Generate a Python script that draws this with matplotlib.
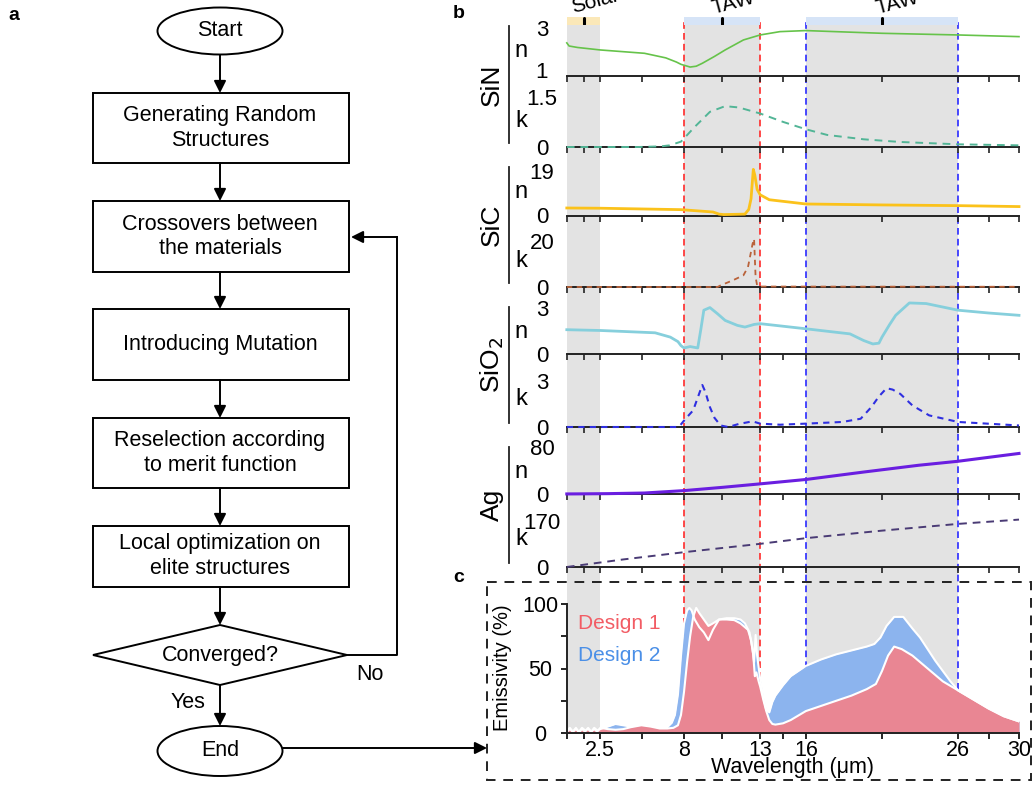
import matplotlib.pyplot as plt
from matplotlib.patches import Ellipse, Rectangle, Polygon

plt.rcParams['font.family'] = ['Liberation Sans', 'DejaVu Sans']

W, H = 1035, 786

# ---------------- panel b: n and k of each material (wavelength in um)
sin_n_wl = [0.3, 0.45, 1.0, 2.5, 5.4, 6.8, 7.5, 7.8, 8.4, 8.8, 9.2, 10.0, 10.7, 11.9, 13.0, 14.3, 16.0, 21.0, 26.0, 30.0]
sin_n = [2.3, 2.15, 2.08, 1.96, 1.80, 1.58, 1.38, 1.27, 1.14, 1.18, 1.32, 1.65, 1.96, 2.44, 2.68, 2.84, 2.89, 2.76, 2.68, 2.60]
sin_k_wl = [0.3, 5.0, 6.5, 7.06, 7.8, 8.7, 9.7, 10.7, 11.6, 13.0, 14.5, 16.0, 17.4, 19.8, 22.2, 26.0, 30.0]
sin_k = [0.0, 0.0, 0.02, 0.05, 0.16, 0.60, 1.05, 1.22, 1.18, 1.00, 0.75, 0.53, 0.36, 0.23, 0.15, 0.08, 0.05]

sic_n_wl = [0.3, 2.5, 7.8, 9.9, 10.3, 10.6, 12.0, 12.25, 12.4, 12.55, 12.65, 12.8, 13.0, 13.6, 16.0, 21.0, 26.0, 30.0]
sic_n = [3.1, 3.0, 2.4, 1.4, 0.5, 0.3, 0.5, 2.5, 7.0, 19.5, 17.0, 11.0, 8.7, 6.6, 4.8, 4.4, 4.1, 3.7]
sic_k_wl = [0.3, 10.2, 10.4, 11.2, 11.9, 12.2, 12.5, 12.6, 12.7, 12.8, 13.0, 30.0]
sic_k = [0.0, 0.0, 0.7, 2.9, 5.1, 8.7, 18.8, 21.0, 4.3, 0.7, 0.2, 0.1]

sio2_n_wl = [0.3, 2.5, 6.1, 7.1, 7.6, 7.8, 8.0, 8.4, 8.9, 9.1, 9.3, 9.7, 10.2, 10.7, 11.5, 12.0, 12.6, 13.0, 16.0, 18.9, 19.8, 20.4, 20.8, 21.0, 21.5, 21.9, 22.8, 23.9, 26.0, 28.0, 30.0]
sio2_n = [1.57, 1.52, 1.37, 1.09, 0.80, 0.54, 0.39, 0.48, 0.39, 1.57, 2.83, 3.0, 2.6, 2.17, 1.85, 1.74, 1.91, 1.96, 1.63, 1.30, 0.87, 0.65, 0.70, 1.09, 1.9, 2.5, 3.3, 3.26, 2.83, 2.65, 2.5]
sio2_k_wl = [0.3, 7.5, 7.7, 8.1, 8.6, 9.0, 9.2, 9.4, 9.7, 10.0, 10.4, 10.9, 11.6, 12.5, 13.0, 14.3, 16.0, 18.4, 19.6, 20.3, 20.8, 21.3, 21.7, 22.2, 23.0, 24.1, 26.0, 30.0]
sio2_k = [0.0, 0.0, 0.05, 0.54, 1.09, 2.2, 2.75, 2.3, 1.3, 0.6, 0.1, 0.0, 0.2, 0.37, 0.22, 0.15, 0.22, 0.33, 0.54, 1.3, 2.0, 2.54, 2.45, 2.17, 1.41, 0.76, 0.33, 0.1]

ag_n_wl = [0.3, 1.0, 3.0, 5.4, 8.0, 10.6, 13.0, 16.0, 19.8, 23.4, 26.0, 30.0]
ag_n = [0.1, 0.2, 0.6, 1.7, 5.8, 11.6, 17.4, 24.9, 37.7, 49.3, 56.2, 69.6]
ag_k_wl = [0.3, 4.0, 8.0, 13.0, 16.0, 21.0, 26.0, 30.0]
ag_k = [0, 28, 55, 86, 107, 135, 160, 176]

materials = ['SiN', 'SiC', 'SiO$_2$', 'Ag']

# ---------------- panel c: emissivity (%)
d1_wl = [0.3, 0.5, 0.7, 0.9, 1.1, 1.3, 1.5, 1.7, 1.9, 2.1, 2.3, 2.5, 3.0, 3.5, 4.0, 4.5, 5.2, 5.8, 6.4, 6.9, 7.3, 7.6, 7.8,
         8.0, 8.2, 8.4, 8.6, 8.8, 9.0, 9.3, 9.6, 9.9, 10.3, 10.8, 11.3, 11.7, 12.0, 12.2, 12.4, 12.55, 12.65, 12.75,
         12.9, 13.0, 13.2, 13.4, 13.6, 13.8, 14.0, 14.5, 15.0, 16.0, 17.0, 18.0, 19.0, 20.0, 20.6, 21.0, 21.4, 21.8,
         22.3, 23.0, 24.0, 25.0, 26.0, 27.0, 28.0, 29.0, 30.0]
d1 = [1, 3, 1, 4, 0.5, 3, 1, 4, 1, 3, 1, 4, 3, 2.5, 3, 4.5, 6, 5, 3.5, 3.5, 4, 6, 14,
      32, 55, 75, 90, 97, 93, 88, 83, 85, 88, 88, 87.5, 85, 82, 80, 72, 60, 44, 47,
      40, 36, 26, 17, 10, 7, 6.5, 7.5, 10, 17, 21, 25, 29, 34, 38, 48, 60, 67,
      65, 60, 50, 40, 33, 26, 19, 13, 9]
d2_wl = [0.3, 0.5, 0.7, 0.9, 1.1, 1.3, 1.5, 1.7, 1.9, 2.1, 2.3, 2.5, 3.0, 3.5, 4.0, 4.5, 5.2, 5.8, 6.4, 6.9, 7.2, 7.4,
         7.6, 7.8, 8.0, 8.2, 8.35, 8.5, 8.7, 9.0, 9.3, 9.6, 9.9, 10.3, 10.8, 11.3, 11.7, 12.0, 12.3, 12.5, 12.6,
         12.7, 12.8, 13.0, 13.2, 13.4, 13.6, 13.8, 14.0, 14.5, 15.0, 16.0, 17.0, 18.0, 19.0, 20.0, 20.5, 20.9, 21.3,
         21.8, 22.4, 23.0, 23.5, 24.0, 24.5, 25.0, 25.5, 26.0, 27.0, 28.0, 29.0, 30.0]
d2 = [2, 4, 1, 3, 1, 4, 2, 3, 1, 4, 2, 3, 5, 7, 6, 5, 7, 6, 4, 4.5, 8, 14,
      30, 60, 85, 95, 97, 95, 88, 82, 78, 72, 80, 88, 89, 89, 88, 85, 78, 65, 55,
      76, 60, 42, 28, 18, 16, 24, 29, 37, 44, 52, 57, 61, 64, 67, 69, 74, 83,
      90, 90, 81, 74, 65, 56, 48, 40, 33, 26, 19, 13, 9]

xticks = [0.3, 1.4, 2.5, 5.25, 8, 10.5, 13, 14.5, 16, 21, 26, 28, 30]
xtick_labels = ['', '', '2.5', '', '8', '', '13', '', '16', '', '26', '', '30']

bands_gray = [(0.3, 2.5), (8, 13), (16, 26)]
band_lines = [(8, '#ff2a2a'), (13, '#ff2a2a'), (16, '#2a2aff'), (26, '#2a2aff')]


def rect(x0, x1, y0, y1):
    return [x0 / W, 1 - y1 / H, (x1 - x0) / W, (y1 - y0) / H]


AX_L, AX_R = 566.8, 1019.0
XLIM = (0.3, 30)

fig = plt.figure(figsize=(W / 100, H / 100), dpi=100)

# background: gray windows and dashed limits running through b and c
bg = fig.add_axes(rect(AX_L, AX_R, 20, 733))
bg.set_xlim(XLIM)
bg.set_ylim(0, 1)
bg.axis('off')
for a, b in bands_gray:
    bg.axvspan(a, b, ymax=708 / 713, color='#e3e3e3', lw=0)
for xv, c in band_lines:
    bg.axvline(xv, color=c, lw=1.2, ls=(0, (4, 2.5)))

# top strip with the spectral windows
st = fig.add_axes(rect(AX_L, AX_R, 17, 25))
st.set_xlim(XLIM)
st.set_ylim(0, 1)
st.axis('off')
st.axvspan(0.3, 2.5, color='#fbe8b8', lw=0)
st.axvspan(8, 13, color='#d6e4f7', lw=0)
st.axvspan(16, 26, color='#d6e4f7', lw=0)
for xc in [1.4, 10.5, 21]:
    st.plot([xc, xc], [0.1, 0.9], color='k', lw=2.2, solid_capstyle='round')

# panel b
b_tops = [6, 76, 147, 216, 287, 354, 427, 494]
b_bots = [76, 147, 216, 287, 354, 427, 494, 567]
panels = [
    (sin_n_wl, sin_n, (0.71, 4.07), [1, 3], ['1', '3'], '#66c34a', '-', 1.2),
    (sin_k_wl, sin_k, (0, 2.12), [0, 1.5], ['0', '1.5'], '#52b596', (0, (4, 3)), 1.4),
    (sic_n_wl, sic_n, (-0.3, 29), [0, 19], ['0', '19'], '#fbc21b', '-', 2.0),
    (sic_k_wl, sic_k, (0, 31), [0, 20], ['0', '20'], '#b9623a', (0, (3, 2.5)), 1.3),
    (sio2_n_wl, sio2_n, (0, 4.33), [0, 3], ['0', '3'], '#86cfdc', '-', 2.0),
    (sio2_k_wl, sio2_k, (0, 4.78), [0, 3], ['0', '3'], '#2f2fe0', (0, (3, 2.5)), 1.5),
    (ag_n_wl, ag_n, (0, 115), [0, 80], ['0', '80'], '#6a1ee0', '-', 2.2),
    (ag_k_wl, ag_k, (0, 271), [0, 170], ['0', '170'], '#4a3b75', (0, (4, 3)), 1.4),
]
for i, (wl, vals, ylim, yt, ytl, col, ls, lw) in enumerate(panels):
    ax = fig.add_axes(rect(AX_L, AX_R, b_tops[i], b_bots[i]))
    ax.set_facecolor('none')
    ax.plot(wl, vals, color=col, ls=ls, lw=lw, clip_on=False, zorder=3)
    ax.set_xlim(XLIM)
    ax.set_ylim(ylim)
    for s in ['top', 'right', 'left']:
        ax.spines[s].set_visible(False)
    ax.spines['bottom'].set_linewidth(1.4)
    ax.spines['bottom'].set_color('#222222')
    ax.set_xticks(xticks)
    ax.set_xticklabels([])
    ax.tick_params(axis='x', direction='out', length=4, width=1.2, color='#222222')
    ax.set_yticks(yt)
    ax.set_yticklabels(ytl, fontsize=16)
    ax.tick_params(axis='y', length=0, pad=17.9)
    for t in ax.get_yticklabels():
        t.set_horizontalalignment('center')

# panel c
axc = fig.add_axes(rect(AX_L, AX_R, 604, 733))
axc.set_facecolor('none')
axc.fill_between(d2_wl, d2, color='#8cb4ee', lw=0)
axc.plot(d2_wl, d2, color='white', lw=1.5)
axc.fill_between(d1_wl, d1, color='#f0848e', alpha=0.94, lw=0)
axc.plot(d1_wl, d1, color='white', lw=1.5)
axc.set_xlim(XLIM)
axc.set_ylim(0, 100)
for s in ['top', 'right']:
    axc.spines[s].set_visible(False)
for s in ['bottom', 'left']:
    axc.spines[s].set_linewidth(1.4)
    axc.spines[s].set_color('#222222')
axc.set_xticks(xticks)
axc.set_xticklabels(xtick_labels, fontsize=15.5)
axc.set_yticks([0, 50, 100])
axc.set_yticklabels(['0', '50', '100'], fontsize=15.5)
axc.set_yticks([25, 75], minor=True)
axc.tick_params(axis='x', direction='out', length=4, width=1.2, pad=1)
axc.tick_params(axis='y', which='both', direction='out', length=4, width=1.2, pad=15)
for t in axc.get_yticklabels():
    t.set_horizontalalignment('center')
axc.text(1.04, 85, 'Design 1', color='#f25c64', fontsize=15, va='center')
axc.text(1.04, 60, 'Design 2', color='#4a8fe7', fontsize=15, va='center')
axc.set_xlabel('Wavelength (μm)', fontsize=15.5, labelpad=-2.5)

# overlay in pixel coordinates: flowchart, labels, frames
ov = fig.add_axes([0, 0, 1, 1], zorder=10)
ov.set_xlim(0, W)
ov.set_ylim(H, 0)
ov.axis('off')

ov.text(503, 668, 'Emissivity (%)', rotation=90, fontsize=14.5, ha='center', va='center')

ov.text(8, 16, 'a', fontsize=14, fontweight='bold', va='center')
ov.text(453, 13, 'b', fontsize=14, fontweight='bold', va='center')
ov.text(453, 577, 'c', fontsize=14, fontweight='bold', va='center')

# material labels
for j, name in enumerate(materials):
    n_top = b_tops[2 * j]
    k_top = b_tops[2 * j + 1]
    k_bot = b_bots[2 * j + 1]
    y0, y1 = n_top + 20, k_bot - 4
    ov.plot([509, 509], [y0, y1], color='#222222', lw=1.3)
    ov.text(492, (y0 + y1) / 2, name, rotation=90, fontsize=19, ha='center', va='center')
    ov.text(521, n_top + 45, 'n', fontsize=17, ha='center', va='center')
    ov.text(521, k_top + 45, 'k', fontsize=17, ha='center', va='center')

# window names, cut by the top edge as in the original figure
ov.text(573, 13, 'Solar', rotation=15, fontsize=15, rotation_mode='anchor')
ov.text(714, 14, 'TAW', rotation=15, fontsize=15, rotation_mode='anchor')
ov.text(877, 14, 'TAW', rotation=15, fontsize=15, rotation_mode='anchor')

# dashed frame of panel c
ov.add_patch(Rectangle((487, 582), 1031 - 487, 780 - 582, fill=False, ls=(0, (5, 4)),
                       lw=1.4, ec='#222222'))

lw_fc = 1.4
arrow_kw = dict(arrowstyle='-|>', color='black', lw=lw_fc, mutation_scale=18, shrinkA=0, shrinkB=0)
cx = 220
fs_fc = 15.5

ov.add_patch(Ellipse((cx, 31), 125, 47, fill=False, lw=lw_fc))
ov.text(cx, 31, 'Start', fontsize=fs_fc, ha='center', va='center')

boxes = [
    (93, 163, 'Generating Random\nStructures'),
    (201, 272, 'Crossovers between\nthe materials'),
    (309, 380, 'Introducing Mutation'),
    (418, 488, 'Reselection according\nto merit function'),
    (526, 587, 'Local optimization on\nelite structures'),
]
for top, bot, label in boxes:
    ov.add_patch(Rectangle((93, top), 349 - 93, bot - top, fill=False, lw=lw_fc))
    ov.text(cx, (top + bot) / 2, label, fontsize=fs_fc, ha='center', va='center', linespacing=1.25)

ov.add_patch(Polygon([(93, 655), (cx, 625), (347, 655), (cx, 685)], closed=True, fill=False, lw=lw_fc))
ov.text(cx, 655, 'Converged?', fontsize=fs_fc, ha='center', va='center')

ov.add_patch(Ellipse((cx, 751), 125, 50, fill=False, lw=lw_fc))
ov.text(cx, 751, 'End', fontsize=fs_fc, ha='center', va='center')

links = [(55, 93), (163, 201), (272, 309), (380, 418), (488, 526), (587, 625), (685, 726)]
for y_from, y_to in links:
    ov.annotate('', xy=(cx, y_to), xytext=(cx, y_from), arrowprops=arrow_kw)

ov.plot([347, 397, 397], [655, 655, 237], color='black', lw=lw_fc)
ov.annotate('', xy=(351, 237), xytext=(397, 237), arrowprops=arrow_kw)
ov.text(370, 674, 'No', fontsize=fs_fc, ha='center', va='center')
ov.text(188, 703, 'Yes', fontsize=fs_fc, ha='center', va='center')

ov.annotate('', xy=(487, 748), xytext=(283, 748), arrowprops=arrow_kw)

plt.savefig('out.png', dpi=100)
